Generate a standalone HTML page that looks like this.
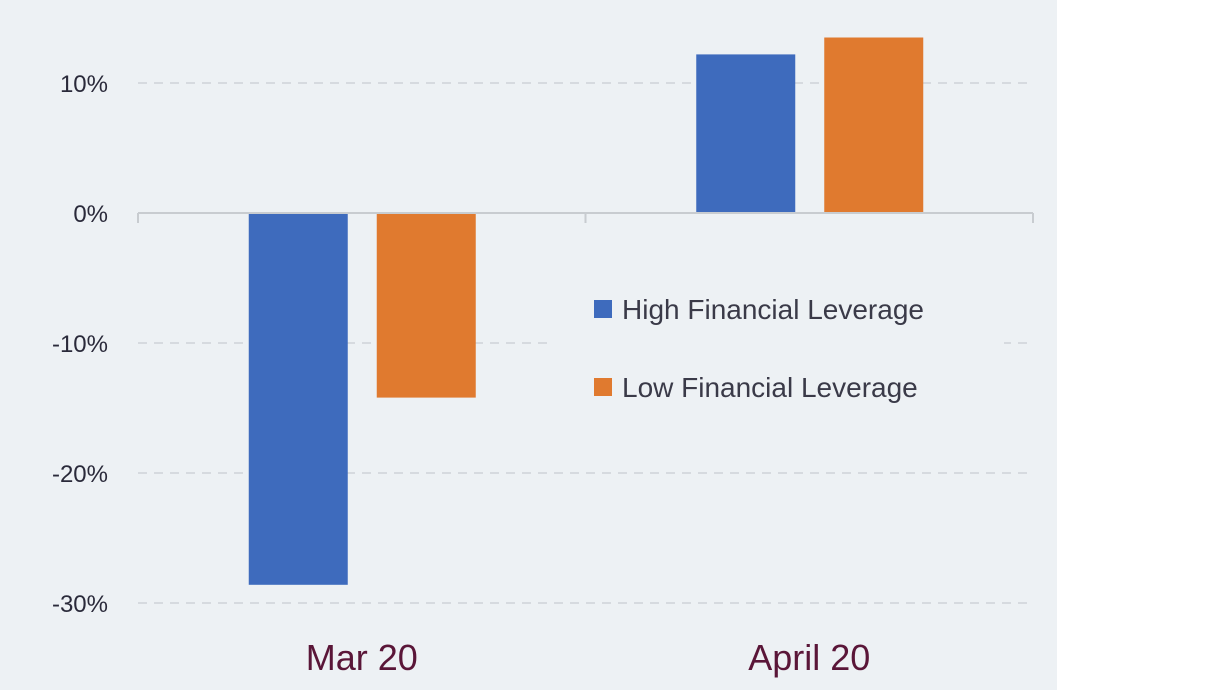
<!DOCTYPE html>
<html><head><meta charset="utf-8"><style>
body{margin:0;background:#fff}
svg{display:block;font-family:"Liberation Sans",sans-serif}
</style></head><body>
<svg id="chart" width="1226" height="690">
<rect x="0" y="0" width="1057" height="690" fill="#edf1f4"/>
<g id="grid"></g><g id="bars"></g><g id="axes"></g>
<rect x="552" y="280" width="452" height="130" fill="#edf1f4"/>
<g>
<rect x="594" y="300" width="18" height="18" fill="#3e6bbd"/>
<text x="622" y="319" font-size="28" fill="#3a3a48">High Financial Leverage</text>
<rect x="594" y="378" width="18" height="18" fill="#e07a2f"/>
<text x="622" y="397" font-size="28" fill="#3a3a48">Low Financial Leverage</text>
</g>
</svg>
<script>
const categories=["Mar 20","April 20"];
const highLeverage=[-28.6,12.2];
const lowLeverage=[-14.2,13.5];
const tickValues=[10,0,-10,-20,-30];
const tickLabels=["10%","0%","-10%","-20%","-30%"];
const NS="http://www.w3.org/2000/svg";
const x0=138,x1=1033,y=v=>213-v*13;
const bw=(x1-x0)/categories.length;
function mk(t,a,p){const e=document.createElementNS(NS,t);for(const k in a)e.setAttribute(k,a[k]);p.appendChild(e);return e;}
const grid=document.getElementById('grid'),bars=document.getElementById('bars'),axes=document.getElementById('axes');
tickValues.forEach((v,i)=>{
 if(v!==0){const l=mk('line',{x1:x0,x2:x1,y1:y(v),y2:y(v),stroke:'#cfd3d8','stroke-width':1.5,'stroke-dasharray':'9 7'},grid);
 
 }
 const t=mk('text',{x:108,y:y(v)+9,'font-size':24,'text-anchor':'end',fill:'#2a2a3a'},axes);t.textContent=tickLabels[i];
 
 
});
const za=mk('line',{x1:x0,x2:x1,y1:y(0),y2:y(0),stroke:'#c8ccd0','stroke-width':2},axes);


for(let i=0;i<=categories.length;i++){const tk=mk('line',{x1:x0+i*bw,x2:x0+i*bw,y1:y(0),y2:y(0)+10,stroke:'#c8ccd0','stroke-width':2},axes);
 
 }
categories.forEach((c,i)=>{
 const cx=x0+bw*(i+0.5);
 [[highLeverage,'#3e6bbd',-113,'bar-high'],[lowLeverage,'#e07a2f',15,'bar-low']].forEach(([s,col,off,nm])=>{
  const v=s[i];const r=mk('rect',{x:cx+off,width:99,y:Math.min(y(v),y(0)),height:Math.abs(y(v)-y(0)),fill:col},bars);
  
  
 });
 const t=mk('text',{x:cx,y:670,'font-size':36,'text-anchor':'middle',fill:'#5a1638'},axes);t.textContent=c;
 
 
});
</script>
</body></html>
